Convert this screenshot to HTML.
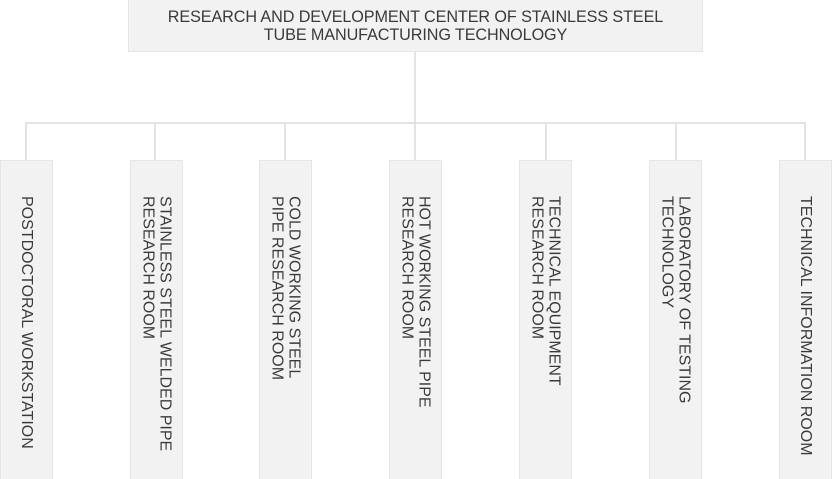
<!DOCTYPE html>
<html><head><style>
html,body{margin:0;padding:0;background:#fff;width:835px;height:479px;overflow:hidden;position:relative;font-family:"Liberation Sans",Arial,sans-serif;color:#3a3a3a}
.top{position:absolute;left:128px;top:0;width:575px;height:52px;background:#f2f2f2;border:1px solid #e6e6e6;border-top:none;text-align:center;font-size:16.2px;line-height:18px;padding-top:8px;box-sizing:border-box;letter-spacing:-0.1px}
.l{position:absolute;background:#e3e3e3}
.b{position:absolute;top:160px;width:53px;height:330px;background:#f2f2f2;border:1px solid #e6e6e6;box-sizing:border-box;display:flex;justify-content:center}
.b span{writing-mode:vertical-rl;font-size:16px;line-height:17px;margin-top:35px;white-space:nowrap}
</style></head><body>
<div class="top">RESEARCH AND DEVELOPMENT CENTER OF STAINLESS STEEL<br>TUBE MANUFACTURING TECHNOLOGY</div>
<div class="l" style="left:414px;top:52px;width:2px;height:109px"></div>
<div class="l" style="left:25px;top:122px;width:781px;height:2px"></div>
<div class="l" style="left:25px;top:122px;width:2px;height:38px"></div>
<div class="l" style="left:154px;top:122px;width:2px;height:38px"></div>
<div class="l" style="left:284px;top:122px;width:2px;height:38px"></div>
<div class="l" style="left:545px;top:122px;width:2px;height:38px"></div>
<div class="l" style="left:675px;top:122px;width:2px;height:38px"></div>
<div class="l" style="left:804px;top:122px;width:2px;height:38px"></div>
<div class="b" style="left:0px"><span>POSTDOCTORAL WORKSTATION</span></div>
<div class="b" style="left:130px"><span>STAINLESS STEEL WELDED PIPE<br>RESEARCH ROOM</span></div>
<div class="b" style="left:259px"><span>COLD WORKING STEEL<br>PIPE RESEARCH ROOM</span></div>
<div class="b" style="left:389px"><span>HOT WORKING STEEL PIPE<br>RESEARCH ROOM</span></div>
<div class="b" style="left:519px"><span>TECHNICAL EQUIPMENT<br>RESEARCH ROOM</span></div>
<div class="b" style="left:649px"><span>LABORATORY OF TESTING<br>TECHNOLOGY</span></div>
<div class="b" style="left:779px"><span>TECHNICAL INFORMATION ROOM</span></div>
</body></html>
